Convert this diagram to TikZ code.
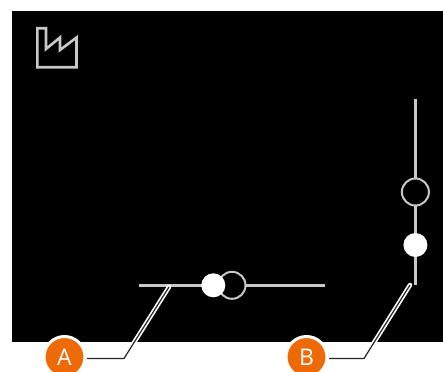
\documentclass[tikz,border=0pt]{standalone}
\usepackage{fontspec}
\setmainfont{Open Sans}
\definecolor{tagorange}{HTML}{EE6A07}
\definecolor{trackgrey}{HTML}{C8C8C8}
\tikzset{
  track/.style={draw=trackgrey,line width=2.8pt},
  hollowknob/.style={circle,draw=trackgrey,line width=2pt,fill=black,inner sep=0pt,minimum size=27pt},
  solidknob/.style={circle,draw=none,fill=white,inner sep=0pt,minimum size=24pt},
  tag/.style={circle,draw=white,line width=3pt,fill=tagorange,text=white,inner sep=0pt,minimum size=41pt,font=\fontsize{23}{23}\selectfont},
  leaderhalo/.style={draw=white,line width=4.5pt,line cap=round},
  leaderline/.style={draw=black!85,line width=1.2pt},
}
\begin{document}
\begin{tikzpicture}[x=1pt,y=-1pt]
\useasboundingbox (0,0) rectangle (443,371);
\fill[white] (0,0) rectangle (443,371);
\fill[black] (12,11) rectangle (443,342);
% icon
\draw[draw=trackgrey,line width=2.6pt,line join=miter] (37.3,28.3) -- (46,28.3) -- (46,49) -- (60,37.5) -- (60,50) -- (76.5,37.5) -- (76.5,67.3) -- (37.3,67.3) -- cycle;
% sliders
\coordinate (ha) at (139,285.3);
\coordinate (hb) at (325,285.3);
\coordinate (va) at (415.4,99);
\coordinate (vb) at (415.4,285);
\draw[track] (ha) -- (hb);
\draw[track] (va) -- (vb);
\node[hollowknob] (h1) at (232,285.3) {};
\node[solidknob] (h2) at (213.3,285.3) {};
\node[hollowknob] (v1) at (415.4,192) {};
\node[solidknob] (v2) at (415.4,245) {};
% tags
\node[tag] (A) at (64.5,357) {A};
\node[tag] (B) at (306.5,357) {B};
\coordinate (Aend) at (169,287);
\coordinate (Abend) at (124,358.5);
\coordinate (Bend) at (410,285);
\coordinate (Bbend) at (364,358.5);
\coordinate (Astart) at (87,358.5);
\coordinate (Bstart) at (329,358.5);
\draw[leaderhalo] (Abend) -- (Aend);
\draw[leaderhalo] (Bbend) -- (Bend);
\draw[leaderline] (Astart) -- (Abend) -- (Aend);
\draw[leaderline] (Bstart) -- (Bbend) -- (Bend);
\end{tikzpicture}
\end{document}
